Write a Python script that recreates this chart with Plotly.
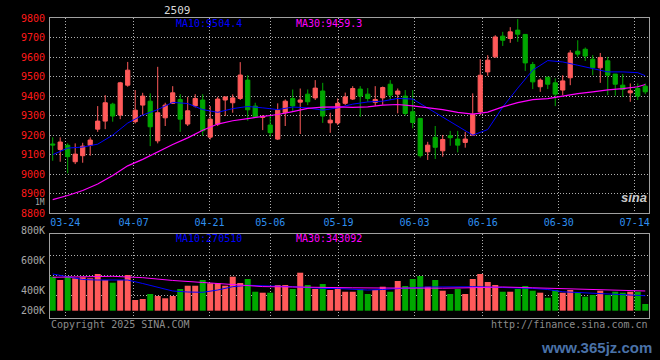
import plotly.graph_objects as go

# ---------------- data ----------------
dates = ["03-20", "03-21", "03-24", "03-25", "03-26", "03-27", "03-28", "03-31",
         "04-01", "04-02", "04-03", "04-07", "04-08", "04-09", "04-10", "04-11",
         "04-14", "04-15", "04-16", "04-17", "04-18", "04-21", "04-22", "04-23",
         "04-24", "04-25", "04-28", "04-29", "04-30", "05-06", "05-07", "05-08",
         "05-09", "05-12", "05-13", "05-14", "05-15", "05-16", "05-19", "05-20",
         "05-21", "05-22", "05-23", "05-26", "05-27", "05-28", "05-29", "05-30",
         "06-03", "06-04", "06-05", "06-06", "06-09", "06-10", "06-11", "06-12",
         "06-13", "06-16", "06-17", "06-18", "06-19", "06-20", "06-23", "06-24",
         "06-25", "06-26", "06-27", "06-30", "07-01", "07-02", "07-03", "07-04",
         "07-07", "07-08", "07-09", "07-10", "07-11", "07-14", "07-15", "07-16"]

opens = [9155, 9127, 9148, 9064, 9095, 9148, 9231, 9272, 9359, 9303,
         9456, 9269, 9354, 9374, 9171, 9289, 9363, 9383, 9257, 9350,
         9380, 9190, 9257, 9380, 9366, 9388, 9482, 9349, 9291, 9252,
         9180, 9315, 9388, 9369, 9410, 9391, 9426, 9263, 9263, 9363,
         9385, 9436, 9410, 9368, 9391, 9461, 9410, 9400, 9320, 9286,
         9115, 9189, 9120, 9197, 9180, 9163, 9200, 9320, 9524, 9601,
         9707, 9695, 9738, 9716, 9562, 9448, 9497, 9468, 9431, 9494,
         9630, 9640, 9589, 9545, 9581, 9513, 9456, 9417, 9439, 9451]
highs = [9189, 9189, 9158, 9158, 9161, 9189, 9349, 9405, 9366, 9473,
         9575, 9431, 9417, 9414, 9550, 9366, 9451, 9410, 9396, 9410,
         9410, 9349, 9396, 9396, 9409, 9574, 9507, 9366, 9303, 9303,
         9363, 9383, 9434, 9439, 9434, 9482, 9468, 9315, 9388, 9418,
         9451, 9451, 9441, 9451, 9449, 9482, 9439, 9431, 9431, 9286,
         9166, 9247, 9201, 9222, 9222, 9217, 9414, 9589, 9610, 9712,
         9729, 9753, 9794, 9716, 9575, 9491, 9497, 9491, 9507, 9635,
         9686, 9649, 9610, 9621, 9601, 9513, 9513, 9465, 9465, 9465]
lows = [9069, 9064, 9005, 9052, 9059, 9095, 9217, 9231, 9269, 9282,
        9448, 9260, 9303, 9144, 9158, 9247, 9360, 9217, 9247, 9342,
        9197, 9178, 9247, 9298, 9315, 9380, 9274, 9290, 9226, 9192,
        9175, 9247, 9323, 9206, 9354, 9380, 9263, 9212, 9252, 9355,
        9380, 9294, 9371, 9350, 9356, 9380, 9312, 9300, 9235, 9085,
        9073, 9078, 9090, 9146, 9112, 9136, 9200, 9303, 9504, 9596,
        9657, 9673, 9678, 9529, 9436, 9422, 9436, 9349, 9405, 9456,
        9601, 9580, 9507, 9468, 9405, 9402, 9396, 9371, 9380, 9410]
closes = [9150, 9165, 9090, 9103, 9144, 9175, 9272, 9366, 9298, 9468,
          9533, 9328, 9400, 9243, 9315, 9354, 9417, 9282, 9325, 9388,
          9223, 9282, 9385, 9396, 9391, 9508, 9330, 9294, 9296, 9213,
          9328, 9374, 9350, 9380, 9371, 9441, 9298, 9277, 9363, 9396,
          9439, 9400, 9388, 9383, 9444, 9405, 9426, 9311, 9265, 9095,
          9149, 9138, 9178, 9187, 9149, 9180, 9307, 9507, 9584, 9703,
          9686, 9729, 9717, 9570, 9473, 9482, 9461, 9410, 9478, 9621,
          9615, 9605, 9545, 9598, 9507, 9461, 9434, 9427, 9400, 9422]
# volume in thousands of lots
volumes = [595, 537, 607, 567, 585, 567, 642, 537, 490, 537,
           625, 187, 205, 292, 257, 217, 257, 380, 437, 437,
           537, 480, 480, 437, 595, 485, 555, 332, 315, 315,
           450, 450, 380, 665, 450, 380, 467, 362, 402, 332,
           332, 380, 292, 362, 420, 332, 520, 432, 555, 607,
           420, 537, 350, 292, 380, 292, 555, 642, 502, 450,
           332, 332, 380, 432, 350, 315, 227, 362, 315, 362,
           315, 245, 275, 350, 275, 332, 315, 332, 332, 117]

# moving averages (at every second session)
ma_idx = [0, 2, 4, 6, 8, 10, 12, 14, 16, 18, 20, 22, 24, 26, 28, 30, 32, 34, 36, 38,
          40, 42, 44, 46, 48, 50, 52, 54, 56, 58, 60, 62, 64, 66, 68, 70, 72, 74, 76, 78, 79]
ma10 = [9100, 9134, 9139, 9154, 9200, 9262, 9303, 9331, 9368, 9362,
        9331, 9317, 9336, 9347, 9340, 9331, 9344, 9340, 9328, 9340,
        9359, 9370, 9374, 9388, 9385, 9339, 9291, 9244, 9200, 9229,
        9344, 9441, 9533, 9582, 9575, 9558, 9541, 9524, 9524, 9520, 9504.4]
ma30 = [8870, 8891, 8917, 8950, 8993, 9043, 9076, 9116, 9152, 9186,
        9225, 9257, 9274, 9285, 9294, 9306, 9321, 9337, 9344, 9345,
        9342, 9345, 9354, 9357, 9350, 9341, 9331, 9317, 9308, 9318,
        9345, 9367, 9382, 9387, 9401, 9413, 9422, 9432, 9438, 9448, 9459.3]
vol_ma10 = [642, 590, 546, 537, 537, 537, 476, 410, 345, 327,
            322, 362, 420, 445, 441, 424, 420, 406, 389, 389,
            380, 362, 371, 392, 402, 415, 420, 420, 420, 415,
            402, 397, 390, 371, 331, 318, 310, 289, 278, 268, 262]
vol_ma30_idx = [0, 4, 8, 12, 16, 20, 24, 28, 32, 36, 40, 44, 48, 52, 56, 60, 64, 68, 72, 76, 79]
vol_ma30 = [585, 599, 602, 578, 529, 494, 459, 422, 415, 404,
            401, 397, 394, 394, 402, 415, 401, 387, 375, 359, 345]

tick_dates = ["03-24", "04-07", "04-21", "05-06", "05-19", "06-03", "06-16", "06-30", "07-14"]
price_ticks = [8800, 8900, 9000, 9100, 9200, 9300, 9400, 9500, 9600, 9700, 9800]
vol_labels = ["800K", "600K", "400K", "200K"]
contract = "2509"
ma_price_text = ["MA10:9504.4", "MA30:9459.3"]
ma_vol_text = ["MA10:270510", "MA30:343092"]

# ---------------- styling helpers ----------------
W, H = 660, 360
ML, MR, MT, MB = 50, 11, 18, 42
PW, PH = W - ML - MR, H - MT - MB


def fx(px):
    return (px - ML) / PW


def fy(py):
    return (MT + PH - py) / PH


RED = "#FF5A5A"
GREEN = "#00A800"
BLUE = "#0000FF"
MAG = "#FF00FF"
GRID = "#B0B0B0"
FRAME = "#A0A0A0"
GRAYTXT = "#A8A8A8"
FONT = "DejaVu Sans Mono"
DOT = "1px,2px"

idx = list(range(len(dates)))
vol_units = [v * 1000 for v in volumes]
bar_colors = [RED if c >= o else GREEN for o, c in zip(opens, closes)]

# volume panel scale: bars start at y=310.7px, ~17.5K per px
vol_top_px, vol_bot_px, vol_base_px, kpp = 234.3, 318.0, 310.7, 17500
vol_range = [(vol_base_px - vol_bot_px) * kpp, (vol_base_px - vol_top_px) * kpp]
vol_grid = [(vol_base_px - p) * kpp for p in (255.0, 275.3, 295.7)]

fig = go.Figure()

fig.add_trace(go.Candlestick(
    x=idx, open=opens, high=highs, low=lows, close=closes,
    xaxis="x", yaxis="y", whiskerwidth=0,
    increasing=dict(line=dict(color=RED, width=1), fillcolor=RED),
    decreasing=dict(line=dict(color=GREEN, width=1), fillcolor=GREEN),
    showlegend=False, hoverinfo="skip"))
fig.add_trace(go.Scatter(x=ma_idx, y=ma10, mode="lines", line=dict(color=BLUE, width=1),
                         xaxis="x", yaxis="y", showlegend=False, hoverinfo="skip"))
fig.add_trace(go.Scatter(x=ma_idx, y=ma30, mode="lines", line=dict(color=MAG, width=1.2),
                         xaxis="x", yaxis="y", showlegend=False, hoverinfo="skip"))

fig.add_trace(go.Bar(x=idx, y=vol_units, marker=dict(color=bar_colors, line=dict(width=0)),
                     width=0.8, xaxis="x2", yaxis="y2", showlegend=False, hoverinfo="skip"))
fig.add_trace(go.Scatter(x=ma_idx, y=[v * 1000 for v in vol_ma10], mode="lines",
                         line=dict(color=BLUE, width=1), xaxis="x2", yaxis="y2",
                         showlegend=False, hoverinfo="skip"))
fig.add_trace(go.Scatter(x=vol_ma30_idx, y=[v * 1000 for v in vol_ma30], mode="lines",
                         line=dict(color=MAG, width=1), xaxis="x2", yaxis="y2",
                         showlegend=False, hoverinfo="skip"))

x_range = [-0.36, 79.5]
tickpos = [dates.index(d) * 1.0122 - 0.35 for d in tick_dates]

axis_common = dict(showline=True, linecolor=FRAME, linewidth=1, mirror=True,
                   zeroline=False, ticks="", gridcolor=GRID, griddash=DOT, gridwidth=1)

fig.update_layout(
    width=W, height=H,
    margin=dict(l=ML, r=MR, t=MT, b=MB),
    paper_bgcolor="black", plot_bgcolor="black",
    font=dict(family=FONT, size=10, color=GRAYTXT),
    boxgap=0.2, bargap=0.2,
    xaxis=dict(domain=[0, 1], anchor="y", range=x_range, tickvals=tickpos, ticktext=tick_dates,
               tickfont=dict(color="#2F8FEF", size=10, family=FONT), showgrid=True,
               rangeslider=dict(visible=False), **axis_common),
    yaxis=dict(domain=[fy(213.3), 1], anchor="x", range=[8800, 9800], tickvals=price_ticks,
               ticktext=[str(t) for t in price_ticks],
               tickfont=dict(color="#FF1A1A", size=10, family=FONT), showgrid=True,
               ticklabelstandoff=2, **axis_common),
    xaxis2=dict(domain=[0, 1], anchor="y2", range=x_range, matches="x", tickvals=tickpos,
                showticklabels=False, showgrid=True, **axis_common),
    yaxis2=dict(domain=[0, fy(vol_top_px)], anchor="x2", range=vol_range, tickvals=vol_grid,
                showticklabels=False, showgrid=True, **axis_common),
)

ann = []


def text(px, py, s, color, size=10, xanchor="left", family=FONT, **kw):
    ann.append(dict(x=fx(px), y=fy(py), xref="paper", yref="paper", text=s, showarrow=False,
                    xanchor=xanchor, yanchor="middle",
                    font=dict(color=color, size=size, family=family), **kw))


text(177, 10, contract, "#D8D8D8", 11, xanchor="center")
text(174, 23, ma_price_text[0], BLUE)
text(294, 23, ma_price_text[1], MAG)
text(174, 238, ma_vol_text[0], BLUE)
text(294, 238, ma_vol_text[1], MAG)
for lbl, py in zip(vol_labels, (230.7, 260.7, 290.0, 310.0)):
    text(47, py, lbl, GRAYTXT, xanchor="right")
text(47, 202, "1M", GRAYTXT, size=8, xanchor="right")
text(49, 324, "Copyright 2025 SINA.COM", "#8C8C8C")
text(650, 324, "http://finance.sina.com.cn", "#8C8C8C", xanchor="right")
text(634, 197, "<b><i>sina</i></b>", "#C8C8C8", 13, xanchor="center", family="Liberation Sans")
text(596, 347, "<b>www.365jz.com</b>", "#4A72A8", 15, xanchor="center", family="Liberation Sans")

fig.update_layout(annotations=ann)

fig.write_html("out.html", config={"displayModeBar": False},
               post_script="document.body.style.margin='0px';")
